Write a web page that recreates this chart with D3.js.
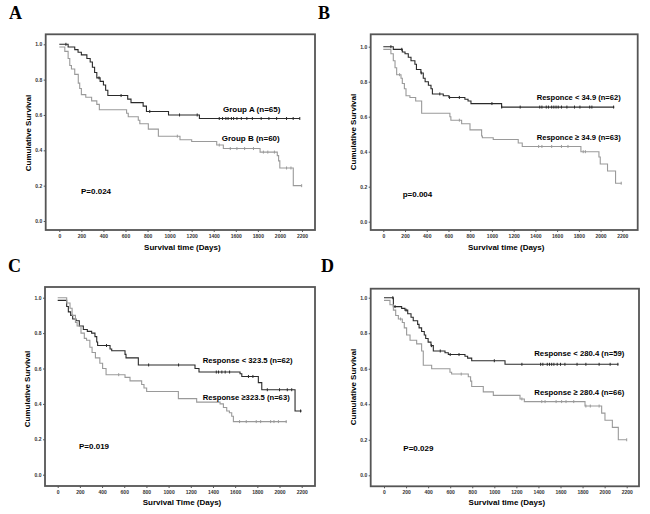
<!DOCTYPE html>
<html>
<head>
<meta charset="utf-8">
<script src="https://cdn.jsdelivr.net/npm/d3@7"></script>
<style>
  body { margin: 0; background: #fff; }
  text { font-family: "Liberation Sans", Arial, sans-serif; }
</style>
</head>
<body>
<svg id="km" width="650" height="514"></svg>
<script>
// survival steps: [day, survival after event]; last entry is end of follow-up
var stepsA1 = [[0,1],[80,0.985],[140,0.97],[170,0.955],[200,0.94],[250,0.92],[280,0.9],[300,0.87],[320,0.84],[340,0.81],[370,0.79],[400,0.77],[420,0.74],[440,0.71],[620,0.69],[650,0.67],[760,0.65],[790,0.62],[990,0.6],[1270,0.58],[2180,0.58]];
var stepsA2 = [[0,0.985],[50,0.96],[80,0.92],[95,0.88],[110,0.86],[140,0.83],[172,0.78],[185,0.75],[200,0.715],[240,0.7],[293,0.68],[340,0.66],[363,0.63],[610,0.61],[625,0.59],[716,0.57],[730,0.55],[807,0.52],[898,0.48],[1094,0.46],[1200,0.45],[1427,0.43],[1487,0.41],[1820,0.39],[1976,0.37],[1988,0.34],[1999,0.3],[2121,0.2],[2197,0.2]];
var censA1 = [60,360,560,820,1090,1250,1450,1480,1510,1530,1560,1580,1610,1650,1700,1750,1830,1900,1970,2060,2120,2180];
var censA2 = [1070,1450,1550,1610,1680,1760,1850,1890,1950,2060,2100,2197];

var stepsB1 = [[0,1],[92,0.985],[175,0.97],[200,0.96],[230,0.94],[255,0.92],[291,0.9],[305,0.87],[346,0.85],[368,0.82],[385,0.8],[415,0.78],[439,0.76],[452,0.73],[552,0.72],[604,0.71],[751,0.7],[780,0.69],[807,0.675],[1089,0.655],[2126,0.655]];
var stepsB2 = [[0,0.985],[70,0.96],[92,0.92],[108,0.88],[123,0.84],[163,0.82],[175,0.79],[194,0.76],[209,0.72],[245,0.71],[298,0.69],[353,0.62],[613,0.6],[622,0.58],[721,0.56],[798,0.525],[905,0.49],[912,0.48],[1012,0.47],[1242,0.45],[1279,0.43],[1819,0.4],[1985,0.37],[1997,0.33],[2064,0.29],[2138,0.22],[2193,0.22]];
var censB1 = [70,170,350,520,610,700,1000,1090,1260,1440,1460,1500,1520,1550,1570,1590,1610,1640,1690,1760,1810,1900,1920,2120];
var censB2 = [150,700,1430,1460,1550,1640,1700,1840,1860,2190];

var stepsC1 = [[0,0.985],[81,0.95],[96,0.92],[117,0.9],[135,0.88],[165,0.87],[195,0.84],[231,0.82],[267,0.81],[306,0.8],[336,0.78],[352,0.75],[360,0.73],[472,0.71],[487,0.7],[607,0.68],[616,0.66],[727,0.62],[1238,0.6],[1274,0.58],[1644,0.57],[1660,0.555],[1809,0.52],[1840,0.48],[2140,0.36],[2200,0.36]];
var stepsC2 = [[0,1],[81,0.97],[111,0.94],[130,0.9],[160,0.86],[175,0.84],[210,0.8],[240,0.77],[260,0.76],[290,0.72],[310,0.69],[340,0.66],[380,0.63],[405,0.6],[436,0.565],[607,0.55],[652,0.53],[757,0.51],[778,0.49],[802,0.47],[1088,0.43],[1253,0.41],[1464,0.4],[1494,0.38],[1524,0.36],[1548,0.35],[1569,0.33],[1584,0.3],[2065,0.3]];
var censC1 = [440,820,1090,1430,1450,1480,1510,1550,1720,1760,1890,2000,2070,2110,2190];
var censC2 = [550,1640,1700,1790,1830,1920,1950,1990,2060];

var stepsD1 = [[0,1],[85,0.95],[160,0.94],[190,0.93],[215,0.91],[245,0.89],[265,0.87],[305,0.85],[318,0.83],[341,0.81],[365,0.79],[378,0.77],[400,0.75],[426,0.73],[447,0.7],[553,0.69],[583,0.68],[734,0.67],[758,0.66],[795,0.645],[1097,0.625],[2125,0.625]];
var stepsD2 = [[0,0.985],[54,0.96],[85,0.93],[106,0.9],[130,0.88],[166,0.86],[184,0.83],[205,0.79],[236,0.76],[296,0.74],[341,0.7],[356,0.62],[432,0.6],[598,0.58],[613,0.57],[764,0.555],[785,0.53],[795,0.5],[900,0.47],[991,0.45],[1233,0.43],[1272,0.415],[1822,0.39],[1973,0.35],[2003,0.31],[2070,0.27],[2124,0.2],[2200,0.2]];
var censD1 = [80,100,200,430,510,600,680,1000,1250,1420,1440,1480,1500,1520,1540,1570,1600,1640,1750,1830,1950,2050,2120];
var censD2 = [150,700,1250,1430,1460,1560,1610,1650,1720,1830,1870,1950,2200];

var xTicks = [0,200,400,600,800,1000,1200,1400,1600,1800,2000,2200];
var yTicks = [0,0.2,0.4,0.6,0.8,1.0];

var panelLetters = ["A","B","C","D"];
var labels1 = ["Group A (n=65)", "Responce < 34.9 (n=62)", "Response < 323.5 (n=62)", "Response < 280.4 (n=59)"];
var labels2 = ["Group B (n=60)", "Responce \u2265 34.9 (n=63)", "Response \u2265323.5 (n=63)", "Response \u2265 280.4 (n=66)"];
var pValues = ["P=0.024", "p=0.004", "P=0.019", "P=0.029"];
var xTitles = ["Survival time (Days)", "Survival time (Days)", "Survival Time (Days)", "Survival time (Days)"];
var yTitle = "Cumulative Survival";

var svg = d3.select("#km");

// layout of each panel (pixels)
var layout = [
  {lx: 9, ly: 19, box: [45.7, 34.3, 315, 230], xr: [59.3, 302], yr: [221, 44.3], ytx: 28, yty: 133,
   l1: [251.7, 112, 0], l2: [250.7, 141, 0], p: [81, 194], xt: 250},
  {lx: 318, ly: 19, box: [370.7, 34.3, 637.7, 230], xr: [383.3, 622.3], yr: [221.7, 46.7], ytx: 353.3, yty: 132,
   l1: [536.7, 100, 84], l2: [536.7, 140, 84], p: [402.7, 197], xt: 250},
  {lx: 8, ly: 272, box: [45, 287, 315, 486], xr: [57.7, 301.7], yr: [474.7, 297.7], ytx: 27, yty: 389,
   l1: [202.7, 363, 90], l2: [202.7, 400, 87], p: [79, 449], xt: 505},
  {lx: 321, ly: 272, box: [370.7, 288.7, 639, 486.3], xr: [384, 626.7], yr: [475.3, 297.7], ytx: 353.3, yty: 387,
   l1: [534.3, 355.5, 90], l2: [534.3, 395, 90], p: [403.3, 451], xt: 505}
];

var data = [
  [stepsA1, stepsA2, censA1, censA2],
  [stepsB1, stepsB2, censB1, censB2],
  [stepsC1, stepsC2, censC1, censC2],
  [stepsD1, stepsD2, censD1, censD2]
];

function survAt(steps, t) {
  var s = steps[0][1];
  steps.forEach(function(d) { if (d[0] <= t) s = d[1]; });
  return s;
}

layout.forEach(function(L, i) {
  var x = d3.scaleLinear().domain([0, 2200]).range(L.xr),
      y = d3.scaleLinear().domain([0, 1]).range(L.yr);
  var g = svg.append("g");

  g.append("text")
      .attr("x", L.lx).attr("y", L.ly)
      .style("font-family", "'Liberation Serif', 'Times New Roman', serif")
      .style("font-weight", "bold")
      .style("font-size", "18px")
      .text(panelLetters[i]);

  // frame
  g.append("rect")
      .attr("x", L.box[0]).attr("y", L.box[1])
      .attr("width", L.box[2] - L.box[0]).attr("height", L.box[3] - L.box[1])
      .attr("fill", "none").attr("stroke", "#555").attr("stroke-width", 1.8);

  // axes
  var xa = g.append("g")
      .attr("transform", "translate(0," + L.box[3] + ")")
      .call(d3.axisBottom(x).tickValues(xTicks).tickSize(2).tickPadding(2).tickFormat(d3.format("d")));
  var ya = g.append("g")
      .attr("transform", "translate(" + L.box[0] + ",0)")
      .call(d3.axisLeft(y).tickValues(yTicks).tickSize(2).tickPadding(1.5).tickFormat(d3.format(".1f")));
  [xa, ya].forEach(function(a) {
    a.select(".domain").remove();
    a.selectAll("line").attr("stroke", "#555");
    a.selectAll("text").style("font-size", "5px").style("font-weight", "bold").attr("fill", "#333");
  });

  g.append("text")
      .attr("x", (L.box[0] + L.box[2]) / 2 + 2).attr("y", L.xt)
      .attr("text-anchor", "middle")
      .style("font-size", "8px").style("font-weight", "bold")
      .text(xTitles[i]);

  g.append("text")
      .attr("transform", "translate(" + (L.ytx + 3) + "," + L.yty + ") rotate(-90)")
      .attr("text-anchor", "middle")
      .style("font-size", "8px").style("font-weight", "bold")
      .text(yTitle);

  var line = d3.line()
      .x(function(d) { return x(d[0]); })
      .y(function(d) { return y(d[1]); })
      .curve(d3.curveStepAfter);

  var colors = ["#2a2a2a", "#9a9a9a"];
  [0, 1].forEach(function(k) {
    var steps = data[i][k], cens = data[i][k + 2];
    g.append("path")
        .datum(steps)
        .attr("d", line)
        .attr("fill", "none")
        .attr("stroke", colors[k])
        .attr("stroke-width", 1.1);
    g.selectAll(".cens" + k)
      .data(cens)
      .enter()
      .append("line")
        .attr("class", "cens" + k)
        .attr("x1", function(d) { return x(d); })
        .attr("x2", function(d) { return x(d); })
        .attr("y1", function(d) { return y(survAt(steps, d)) - 1.5; })
        .attr("y2", function(d) { return y(survAt(steps, d)) + 1.5; })
        .attr("stroke", colors[k])
        .attr("stroke-width", 1);
  });

  var t1 = g.append("text")
      .attr("x", L.l1[0]).attr("y", L.l1[1])
      .attr("text-anchor", L.l1[2] ? "start" : "middle")
      .style("font-size", "8px").style("font-weight", "bold")
      .text(labels1[i]);
  if (L.l1[2]) t1.attr("textLength", L.l1[2]).attr("lengthAdjust", "spacingAndGlyphs");
  var t2 = g.append("text")
      .attr("x", L.l2[0]).attr("y", L.l2[1])
      .attr("text-anchor", L.l2[2] ? "start" : "middle")
      .style("font-size", "8px").style("font-weight", "bold")
      .text(labels2[i]);
  if (L.l2[2]) t2.attr("textLength", L.l2[2]).attr("lengthAdjust", "spacingAndGlyphs");

  g.append("text")
      .attr("x", L.p[0]).attr("y", L.p[1])
      .style("font-size", "8px").style("font-weight", "bold")
      .text(pValues[i]);
});
</script>
</body>
</html>
